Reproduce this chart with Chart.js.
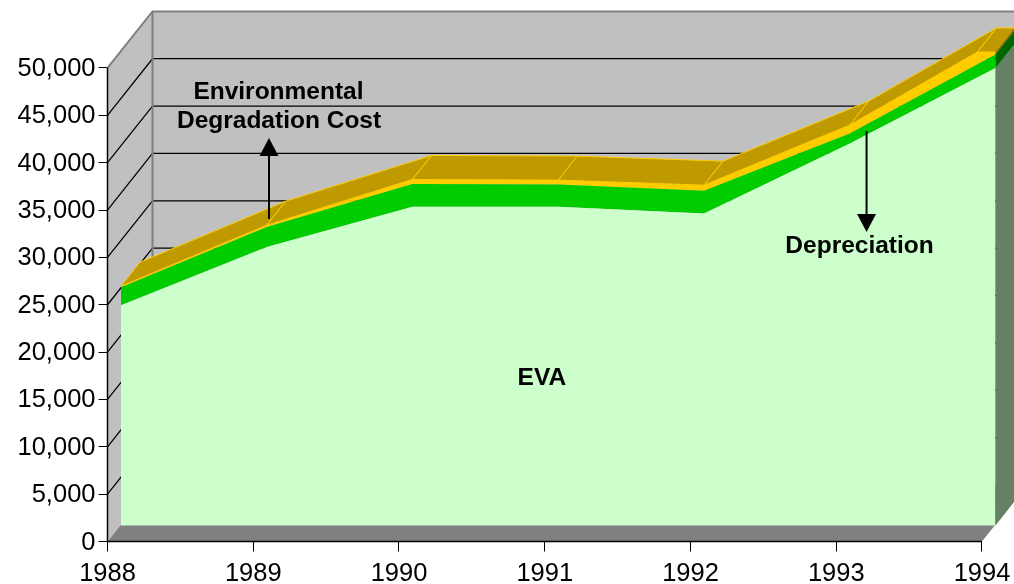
<!DOCTYPE html>
<html>
<head>
<meta charset="utf-8">
<title>EVA 1988-1994</title>
<script src="https://cdn.jsdelivr.net/npm/chart.js@4/dist/chart.umd.js"></script>
<style>
  html, body { margin: 0; padding: 0; background: #fff; }
  canvas { display: block; }
</style>
</head>
<body>
<canvas id="evaChart" width="1014" height="584"></canvas>
<script>
const years = [1988, 1989, 1990, 1991, 1992, 1993, 1994];
const evaValues = [23260, 29420, 33650, 33650, 32950, 40330, 48310];
const depreciationValues = [1900, 2110, 2400, 2360, 2390, 1070, 1430];
const environmentalValues = [100, 180, 490, 460, 600, 880, 1350];
const yTicks = [0, 5000, 10000, 15000, 20000, 25000, 30000, 35000, 40000, 45000, 50000];

// annotation text, placed in axis units
const noteTexts = ["Environmental", "Degradation Cost", "EVA", "Depreciation"];
const noteYears = [1989.173, 1989.177, 1990.98, 1993.16];
const noteValues = [47464, 44349, 17211, 31149];

// arrows: tail and tip, axis units
const arrowYears = [1989.108, 1993.208];
const arrowTails = [34055, 43348];
const arrowTips = [42608, 32682];

const Y_CAP = 50000;
const Y_MAX = 55913;
const X_MAX = 1994.2196;

// how far each plane sits behind the axes, in axis units
const FRONT = { years: 0.0926, value: 1690 };
const BEHIND = { years: 0.223, value: 4224 };
const WALL = { years: 0.3087, value: 5977 };
const AXIS_PLANE = { years: 0, value: 0 };

const evaTop = evaValues;
const depTop = evaValues.map((v, i) => v + depreciationValues[i]);
const envTop = depTop.map((v, i) => v + environmentalValues[i]);

function series(values) {
  return values.map((v, i) => ({ x: years[i], y: v }));
}

function poly(ctx, chart, pts, fill, stroke, width) {
  ctx.beginPath();
  pts.forEach((p, i) => {
    const px = chart.scales.x.getPixelForValue(p[0] + p[2].years);
    const py = chart.scales.y.getPixelForValue(p[1] + p[2].value);
    if (i === 0) ctx.moveTo(px, py);
    else ctx.lineTo(px, py);
  });
  if (fill) {
    ctx.closePath();
    ctx.fillStyle = fill;
    ctx.fill();
  }
  if (stroke) {
    ctx.strokeStyle = stroke;
    ctx.lineWidth = width || 1;
    ctx.stroke();
  }
}

const wallsPlugin = {
  id: "walls",
  beforeDatasetsDraw(chart) {
    const ctx = chart.ctx;
    const first = years[0];
    const last = years[years.length - 1];
    ctx.save();
    poly(ctx, chart, [[first, Y_CAP, WALL], [last, Y_CAP, WALL], [last, 0, WALL], [first, 0, WALL]], "#c0c0c0");
    poly(ctx, chart, [[first, 0, AXIS_PLANE], [first, Y_CAP, AXIS_PLANE], [first, Y_CAP, WALL], [first, 0, WALL]], "#c0c0c0");
    poly(ctx, chart, [[first, 0, AXIS_PLANE], [last, 0, AXIS_PLANE], [last, 0, WALL], [first, 0, WALL]], "#808080");

    yTicks.forEach(v => {
      if (v === 0 || v === Y_CAP) return;
      poly(ctx, chart, [[first, v, AXIS_PLANE], [first, v, WALL], [last, v, WALL]], null, "#000", 1.25);
    });

    poly(ctx, chart, [[first, Y_CAP, AXIS_PLANE], [first, Y_CAP, WALL], [last, Y_CAP, WALL]], null, "#808080", 2);
    poly(ctx, chart, [[first, Y_CAP, WALL], [first, 0, WALL]], null, "#808080", 2);
    ctx.restore();
  },
  afterDatasetsDraw(chart) {
    const ctx = chart.ctx;
    const last = years.length - 1;
    ctx.save();

    // top of the stack, cut off where it goes through the axis maximum
    for (let i = 0; i < last; i++) {
      const a = envTop[i];
      const b = envTop[i + 1];
      let endYear = years[i + 1];
      let endValue = b;
      if (b > Y_CAP) {
        endYear = years[i] + (Y_CAP - a) / (b - a);
        endValue = Y_CAP;
      }
      poly(ctx, chart, [[years[i], a, FRONT], [years[i], a, BEHIND], [endYear, endValue, BEHIND], [endYear, endValue, FRONT], [years[i], a, FRONT]], "#bf9900", "#ffcc00", 1);
      if (b > Y_CAP) {
        poly(ctx, chart, [[endYear, Y_CAP, FRONT], [endYear, Y_CAP, BEHIND], [years[last], Y_CAP, BEHIND], [years[last], Y_CAP, FRONT], [endYear, Y_CAP, FRONT]], "#bf9900", "#ffcc00", 1);
      }
    }

    // right hand end of each band
    const lastYear = years[last];
    const side = (low, high, color) => {
      poly(ctx, chart, [[lastYear, low, FRONT], [lastYear, low, BEHIND], [lastYear, high, BEHIND], [lastYear, high, FRONT]], color);
    };
    side(0, evaTop[last], "#668066");
    side(evaTop[last], depTop[last], "#006600");
    side(depTop[last], Math.min(envTop[last], Y_CAP), "#806600");

    // axis lines go over the walls
    poly(ctx, chart, [[years[0], Y_CAP, AXIS_PLANE], [years[0], 0, AXIS_PLANE], [lastYear, 0, AXIS_PLANE]], null, "#000", 1.5);

    // arrows
    const sx = chart.scales.x;
    const sy = chart.scales.y;
    arrowYears.forEach((yr, i) => {
      const px = sx.getPixelForValue(yr);
      const tail = sy.getPixelForValue(arrowTails[i]);
      const tip = sy.getPixelForValue(arrowTips[i]);
      const dir = tip < tail ? 1 : -1;
      ctx.beginPath();
      ctx.moveTo(px, tail);
      ctx.lineTo(px, tip + dir * 18);
      ctx.strokeStyle = "#000";
      ctx.lineWidth = 2;
      ctx.stroke();
      ctx.beginPath();
      ctx.moveTo(px, tip);
      ctx.lineTo(px - 9.5, tip + dir * 18);
      ctx.lineTo(px + 9.5, tip + dir * 18);
      ctx.closePath();
      ctx.fillStyle = "#000";
      ctx.fill();
    });

    // text notes
    ctx.font = "bold 24.5px 'Liberation Sans', Arial, sans-serif";
    ctx.fillStyle = "#000";
    ctx.textAlign = "center";
    ctx.textBaseline = "middle";
    noteTexts.forEach((t, i) => {
      ctx.fillText(t, sx.getPixelForValue(noteYears[i]), sy.getPixelForValue(noteValues[i]));
    });
    ctx.restore();
  }
};

new Chart(document.getElementById("evaChart"), {
  type: "line",
  data: {
    datasets: [
      {
        label: "EVA",
        data: series(evaValues),
        xAxisID: "xFront",
        yAxisID: "yFront",
        backgroundColor: "#ccffcc",
        borderWidth: 0,
        pointRadius: 0,
        fill: "origin",
        clip: false
      },
      {
        label: "Depreciation",
        data: series(depreciationValues),
        xAxisID: "xFront",
        yAxisID: "yFront",
        backgroundColor: "#00cc00",
        borderWidth: 0,
        pointRadius: 0,
        fill: "-1",
        clip: false
      },
      {
        label: "Environmental Degradation Cost",
        data: series(environmentalValues),
        xAxisID: "xFront",
        yAxisID: "yFront",
        backgroundColor: "#ffcc00",
        borderWidth: 0,
        pointRadius: 0,
        fill: "-1",
        clip: false
      }
    ]
  },
  options: {
    responsive: false,
    animation: false,
    layout: {
      padding: { top: 12, left: 0, right: 0, bottom: 0 }
    },
    plugins: {
      legend: { display: false },
      tooltip: { enabled: false }
    },
    scales: {
      x: {
        type: "linear",
        min: years[0],
        max: X_MAX,
        position: "bottom",
        border: { display: false },
        grid: { drawOnChartArea: false, color: "#000", tickLength: 10 },
        afterBuildTicks(scale) {
          scale.ticks = years.map(value => ({ value }));
        },
        afterFit(scale) {
          scale.height = 42.5;
          scale.paddingLeft = 0;
          scale.paddingRight = 0;
        },
        ticks: {
          autoSkip: false,
          maxRotation: 0,
          padding: 7,
          color: "#000",
          font: { family: "'Liberation Sans', Arial, sans-serif", size: 25.5 },
          callback: value => String(value)
        }
      },
      y: {
        type: "linear",
        min: 0,
        max: Y_MAX,
        position: "left",
        border: { display: false },
        grid: { drawOnChartArea: false, color: "#000", tickLength: 9 },
        afterBuildTicks(scale) {
          scale.ticks = yTicks.map(value => ({ value }));
        },
        afterFit(scale) {
          scale.width = 107.5;
          scale.paddingTop = 0;
          scale.paddingBottom = 0;
        },
        ticks: {
          autoSkip: false,
          padding: 3,
          labelOffset: 1,
          color: "#000",
          font: { family: "'Liberation Sans', Arial, sans-serif", size: 25.5 },
          callback: value => value.toLocaleString("en-US")
        }
      },
      xFront: {
        type: "linear",
        display: false,
        min: years[0] - FRONT.years,
        max: X_MAX - FRONT.years
      },
      yFront: {
        type: "linear",
        display: false,
        stacked: true,
        min: -FRONT.value,
        max: Y_MAX - FRONT.value
      }
    }
  },
  plugins: [wallsPlugin]
});
</script>
</body>
</html>
